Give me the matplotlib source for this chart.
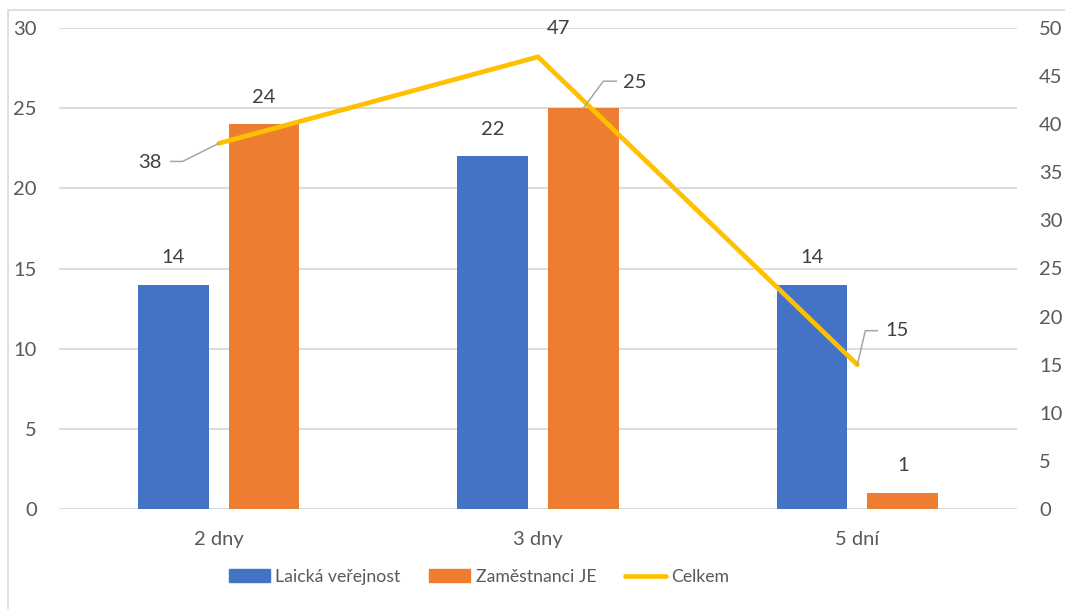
import matplotlib
matplotlib.use("Agg")
import matplotlib.pyplot as plt
from matplotlib.patches import Rectangle
from matplotlib.lines import Line2D
from matplotlib.transforms import IdentityTransform
import numpy as np

categories = ["2 dny", "3 dny", "5 dní"]
laicka = [14, 22, 14]
zamestnanci = [24, 25, 1]
celkem = [38, 47, 15]
series_names = ["Laická veřejnost", "Zaměstnanci JE", "Celkem"]
left_ticks = [0, 5, 10, 15, 20, 25, 30]
right_ticks = [0, 5, 10, 15, 20, 25, 30, 35, 40, 45, 50]

BLUE = "#4472C4"
ORANGE = "#ED7D31"
GOLD = "#FFC000"
GRID = "#D9D9D9"
TICK = "#595959"
LABEL = "#404040"
LEADER = "#A6A6A6"
FONT = ["Lato", "DejaVu Sans"]
FS = 14.5
FS_LEG = 12.7

plt.rcParams["font.family"] = FONT

W, H = 1065, 609
fig = plt.figure(figsize=(W / 100, H / 100), dpi=100)

# outer chart border (only left and top edges fall inside the canvas)
fig.patches.append(Rectangle((8 / W, -0.1), 1.2, (H - 10) / H + 0.1,
                             transform=fig.transFigure, fill=False,
                             edgecolor="#D9D9D9", linewidth=1.2))

ax = fig.add_axes([59 / W, 1 - 509 / H, (1017 - 59) / W, (509 - 28) / H])
ax2 = ax.twinx()

x = np.arange(len(categories))
width = 0.222
off = 0.142

ax.bar(x - off, laicka, width, color=BLUE, zorder=2)
ax.bar(x + off, zamestnanci, width, color=ORANGE, zorder=2)

ax.set_xlim(-0.5, len(categories) - 0.5)
ax.set_ylim(0, 30)
ax.set_yticks(left_ticks)
ax.set_xticks(x)
ax.set_xticklabels(categories)
ax.yaxis.grid(True, color=GRID, linewidth=1.3)
ax.set_axisbelow(True)
for s in list(ax.spines.values()) + list(ax2.spines.values()):
    s.set_visible(False)
ax.tick_params(axis="both", length=0, labelsize=FS, colors=TICK)
ax.tick_params(axis="y", pad=16)
ax.tick_params(axis="x", pad=16)

ax2.set_ylim(0, 50)
ax2.set_yticks(right_ticks)
ax2.tick_params(axis="y", length=0, labelsize=FS, colors=TICK, pad=16)
ax2.plot(x, celkem, color=GOLD, linewidth=3.4, solid_capstyle="round",
         solid_joinstyle="miter", zorder=5)


def label(axis, xv, yv, text, dx, dy):
    axis.annotate(text, (xv, yv), xytext=(dx, dy), textcoords="offset pixels",
                  ha="center", va="center", fontsize=FS, color=LABEL)


def leader(axis, xv, yv, pts):
    # polyline given as pixel offsets from the data point (y up)
    px, py = axis.transData.transform((xv, yv))
    xs = [px + p[0] for p in pts]
    ys = [py + p[1] for p in pts]
    fig.lines.append(Line2D(xs, ys, transform=IdentityTransform(),
                            color=LEADER, linewidth=1.1, zorder=4))


# bar value labels
for xi, v in zip(x, laicka):
    label(ax, xi - off, v, str(v), 0, 27)
for i, (xi, v) in enumerate(zip(x, zamestnanci)):
    if i == 1:
        label(ax, xi + off, v, str(v), 51, 26)
        leader(ax, xi + off, v, [(0, 0), (20, 27), (33, 27)])
    else:
        label(ax, xi + off, v, str(v), 0, 27)

# total line labels
label(ax2, x[0], celkem[0], str(celkem[0]), -69, -19)
leader(ax2, x[0], celkem[0], [(0, 0), (-36, -18), (-48, -18)])
label(ax2, x[1], celkem[1], str(celkem[1]), 20, 28)
label(ax2, x[2], celkem[2], str(celkem[2]), 40, 34)
leader(ax2, x[2], celkem[2], [(0, 0), (8, 34), (20, 34)])

handles = [Rectangle((0, 0), 1, 1, color=BLUE),
           Rectangle((0, 0), 1, 1, color=ORANGE),
           Line2D([0], [0], color=GOLD, linewidth=3.4, solid_capstyle="round")]
fig.legend(handles, series_names, loc="center", bbox_to_anchor=(479 / W, 1 - 577 / H),
           ncol=3, frameon=False, fontsize=FS_LEG, labelcolor=TICK,
           handlelength=2.35, handleheight=0.75, handletextpad=0.3,
           columnspacing=1.6, borderpad=0, borderaxespad=0)

fig.savefig("out.png", dpi=100)
